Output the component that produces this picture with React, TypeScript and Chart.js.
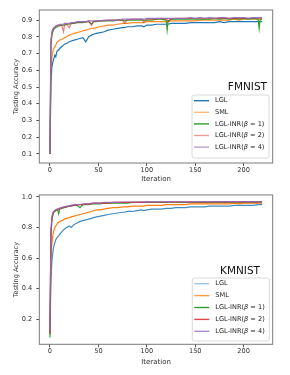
import { useEffect, useRef } from "react";
import { Chart, registerables } from "chart.js";

Chart.register(...registerables);

// ---------- data ----------
const ITER = [
  0, 1, 2, 3, 4, 5, 6, 7, 8, 9, 10,
  12, 14, 15, 17, 20, 22, 25, 28, 31, 34, 37, 40, 43, 45, 48,
  52, 56, 60, 65, 70, 75, 77, 80, 85, 90, 95, 97, 100,
  105, 110, 115, 120, 121, 122, 125, 130, 135, 140, 145, 150,
  155, 160, 165, 170, 175, 180, 185, 190, 195, 200, 205, 210, 215, 216, 217, 219,
];

const SERIES_NAMES = ["LGL", "SML", "LGL-INR(β = 1)", "LGL-INR(β = 2)", "LGL-INR(β = 4)"];

const X_TICKS = [0, 50, 100, 150, 200];
const F_Y_TICKS = [0.1, 0.2, 0.3, 0.4, 0.5, 0.6, 0.7, 0.8, 0.9];
const K_Y_TICKS = [0.2, 0.4, 0.6, 0.8, 1.0];

// FMNIST
const F_LGL = [
  0.10, 0.52, 0.62, 0.65, 0.67, 0.69, 0.68, 0.71, 0.72, 0.72, 0.73,
  0.74, 0.75, 0.755, 0.76, 0.77, 0.775, 0.78, 0.785, 0.79, 0.795, 0.77, 0.80, 0.81, 0.815, 0.82,
  0.825, 0.83, 0.84, 0.845, 0.85, 0.855, 0.855, 0.86, 0.86, 0.865, 0.865, 0.86, 0.87,
  0.87, 0.875, 0.875, 0.875, 0.875, 0.875, 0.88, 0.88, 0.88, 0.88, 0.885, 0.885,
  0.885, 0.885, 0.885, 0.885, 0.89, 0.885, 0.89, 0.89, 0.89, 0.89, 0.89, 0.89, 0.89, 0.89, 0.89, 0.89,
];
const F_SML = [
  0.10, 0.60, 0.68, 0.71, 0.73, 0.74, 0.75, 0.765, 0.77, 0.775, 0.78,
  0.785, 0.79, 0.795, 0.80, 0.81, 0.815, 0.82, 0.825, 0.83, 0.835, 0.84, 0.845, 0.85, 0.85, 0.855,
  0.86, 0.865, 0.87, 0.87, 0.875, 0.88, 0.88, 0.88, 0.885, 0.885, 0.885, 0.885, 0.89,
  0.89, 0.89, 0.89, 0.89, 0.89, 0.89, 0.895, 0.895, 0.895, 0.895, 0.895, 0.895,
  0.90, 0.90, 0.90, 0.90, 0.90, 0.90, 0.90, 0.905, 0.90, 0.905, 0.905, 0.905, 0.905, 0.905, 0.905, 0.905,
];
const F_B1 = [
  0.10, 0.75, 0.81, 0.83, 0.845, 0.85, 0.855, 0.86, 0.86, 0.865, 0.865,
  0.87, 0.87, 0.87, 0.875, 0.875, 0.88, 0.88, 0.885, 0.885, 0.885, 0.89, 0.89, 0.875, 0.89, 0.89,
  0.895, 0.895, 0.895, 0.895, 0.90, 0.90, 0.895, 0.90, 0.90, 0.90, 0.90, 0.90, 0.90,
  0.90, 0.905, 0.905, 0.90, 0.84, 0.895, 0.905, 0.905, 0.905, 0.905, 0.905, 0.905,
  0.905, 0.905, 0.905, 0.91, 0.905, 0.91, 0.905, 0.91, 0.905, 0.91, 0.905, 0.91, 0.905, 0.85, 0.90, 0.905,
];
const F_B2 = [
  0.10, 0.76, 0.82, 0.84, 0.85, 0.855, 0.86, 0.865, 0.865, 0.87, 0.87,
  0.87, 0.83, 0.87, 0.875, 0.855, 0.88, 0.885, 0.885, 0.89, 0.89, 0.885, 0.895, 0.87, 0.89, 0.895,
  0.895, 0.895, 0.90, 0.90, 0.90, 0.90, 0.88, 0.90, 0.905, 0.905, 0.905, 0.885, 0.905,
  0.905, 0.905, 0.91, 0.905, 0.905, 0.89, 0.905, 0.91, 0.91, 0.91, 0.91, 0.91,
  0.91, 0.91, 0.91, 0.91, 0.91, 0.91, 0.91, 0.91, 0.91, 0.91, 0.91, 0.915, 0.91, 0.91, 0.91, 0.91,
];
const F_B4 = [
  0.10, 0.78, 0.83, 0.845, 0.855, 0.86, 0.865, 0.865, 0.87, 0.87, 0.875,
  0.875, 0.875, 0.88, 0.88, 0.88, 0.885, 0.885, 0.89, 0.89, 0.89, 0.89, 0.895, 0.895, 0.895, 0.895,
  0.895, 0.90, 0.90, 0.90, 0.90, 0.905, 0.905, 0.905, 0.905, 0.905, 0.905, 0.905, 0.91,
  0.91, 0.91, 0.91, 0.91, 0.91, 0.91, 0.91, 0.91, 0.91, 0.91, 0.915, 0.91,
  0.915, 0.91, 0.915, 0.91, 0.915, 0.915, 0.91, 0.915, 0.915, 0.915, 0.91, 0.915, 0.915, 0.915, 0.915, 0.915,
];

// KMNIST
const K_LGL = [
  0.10, 0.45, 0.58, 0.64, 0.68, 0.70, 0.72, 0.73, 0.74, 0.745, 0.755,
  0.77, 0.785, 0.79, 0.80, 0.81, 0.80, 0.82, 0.83, 0.84, 0.845, 0.85, 0.855, 0.86, 0.865, 0.87,
  0.875, 0.88, 0.885, 0.89, 0.895, 0.90, 0.90, 0.905, 0.905, 0.91, 0.915, 0.91, 0.915,
  0.92, 0.92, 0.92, 0.925, 0.925, 0.925, 0.925, 0.93, 0.93, 0.93, 0.935, 0.935,
  0.935, 0.935, 0.94, 0.94, 0.94, 0.94, 0.94, 0.945, 0.945, 0.945, 0.945, 0.945, 0.95, 0.95, 0.95, 0.95,
];
const K_SML = [
  0.10, 0.60, 0.70, 0.75, 0.78, 0.80, 0.81, 0.82, 0.83, 0.835, 0.84,
  0.845, 0.85, 0.855, 0.86, 0.865, 0.87, 0.875, 0.88, 0.885, 0.89, 0.895, 0.90, 0.905, 0.91, 0.915,
  0.915, 0.92, 0.925, 0.93, 0.93, 0.935, 0.935, 0.935, 0.94, 0.94, 0.94, 0.94, 0.945,
  0.945, 0.945, 0.945, 0.95, 0.95, 0.95, 0.95, 0.95, 0.95, 0.95, 0.955, 0.955,
  0.955, 0.955, 0.955, 0.955, 0.955, 0.955, 0.955, 0.96, 0.955, 0.96, 0.96, 0.96, 0.96, 0.96, 0.96, 0.96,
];
const K_B1 = [
  0.08, 0.74, 0.85, 0.88, 0.90, 0.905, 0.91, 0.915, 0.915, 0.89, 0.92,
  0.925, 0.93, 0.93, 0.935, 0.94, 0.94, 0.945, 0.945, 0.93, 0.95, 0.95, 0.95, 0.955, 0.955, 0.955,
  0.955, 0.96, 0.96, 0.96, 0.96, 0.96, 0.96, 0.96, 0.965, 0.965, 0.965, 0.965, 0.965,
  0.965, 0.965, 0.965, 0.965, 0.965, 0.965, 0.965, 0.965, 0.965, 0.965, 0.965, 0.965,
  0.965, 0.965, 0.965, 0.966, 0.965, 0.966, 0.965, 0.966, 0.966, 0.966, 0.966, 0.966, 0.966, 0.966, 0.966, 0.966,
];
const K_B2 = [
  0.11, 0.76, 0.86, 0.89, 0.905, 0.91, 0.915, 0.915, 0.92, 0.92, 0.925,
  0.93, 0.93, 0.935, 0.935, 0.94, 0.945, 0.945, 0.95, 0.95, 0.95, 0.955, 0.955, 0.955, 0.96, 0.96,
  0.96, 0.96, 0.96, 0.965, 0.965, 0.965, 0.965, 0.965, 0.965, 0.965, 0.965, 0.965, 0.967,
  0.967, 0.967, 0.967, 0.967, 0.967, 0.967, 0.967, 0.967, 0.967, 0.967, 0.967, 0.967,
  0.967, 0.967, 0.967, 0.968, 0.967, 0.968, 0.967, 0.968, 0.968, 0.968, 0.968, 0.968, 0.968, 0.968, 0.968, 0.968,
];
const K_B4 = [
  0.12, 0.78, 0.87, 0.895, 0.905, 0.91, 0.915, 0.92, 0.92, 0.925, 0.925,
  0.93, 0.935, 0.935, 0.94, 0.94, 0.945, 0.95, 0.95, 0.95, 0.955, 0.955, 0.955, 0.96, 0.96, 0.96,
  0.96, 0.965, 0.965, 0.965, 0.965, 0.967, 0.967, 0.967, 0.967, 0.967, 0.968, 0.968, 0.968,
  0.968, 0.968, 0.968, 0.968, 0.968, 0.968, 0.968, 0.968, 0.968, 0.968, 0.968, 0.968,
  0.969, 0.969, 0.969, 0.969, 0.969, 0.969, 0.969, 0.969, 0.969, 0.969, 0.969, 0.969, 0.969, 0.969, 0.969, 0.969,
];

// ---------- styles ----------
const FONT = "'DejaVu Sans', 'Liberation Sans', sans-serif";
const TOP_COLORS = ["#1f77b4", "rgba(255,127,14,0.9)", "#2ca02c", "rgba(214,39,40,0.6)", "rgba(148,103,189,0.9)"];
const BOT_COLORS = ["rgba(31,119,180,0.85)", "#ff7f0e", "#2ca02c", "#d62728", "rgba(148,103,189,0.85)"];
const TOP_LEG_COLORS = ["#1f77b4", "#ffbb78", "#2ca02c", "#f09a9a", "#b9a1d6"];
const BOT_LEG_COLORS = ["#9ec5e3", "#ff9a40", "#2ca02c", "#e0474a", "#a98bd2"];

type PanelCfg = {
  series: number[][];
  colors: string[];
  legColors: string[];
  yTicks: number[];
  yMin: number;
  yMax: number;
  height: number;
  padTop: number;
  xAxisH: number;
  xTitlePad: number;
  title: string;
  titleRight: number;
  titleY: number;
  legRight: number;
  legBottom: number;
  legH: number;
  legRow0: number;
  legStep: number;
};

const framePlugin = {
  id: "frameAndLegend",
  afterDraw(chart: any) {
    const cfg: PanelCfg = chart.options.plugins.frameAndLegend.cfg;
    const { ctx, chartArea } = chart;
    const { left, right, top, bottom } = chartArea;
    ctx.save();
    // frame
    ctx.strokeStyle = "#7a7a7a";
    ctx.lineWidth = 1;
    ctx.strokeRect(left, top, right - left, bottom - top);

    // panel title
    ctx.fillStyle = "#111";
    ctx.font = `10.5px ${FONT}`;
    ctx.textAlign = "right";
    ctx.textBaseline = "middle";
    ctx.fillText(cfg.title, right - cfg.titleRight, top + cfg.titleY);

    // legend box
    const legW = 77;
    const bx = right - cfg.legRight - legW;
    const by = bottom - cfg.legBottom - cfg.legH;
    ctx.fillStyle = "rgba(255,255,255,0.85)";
    ctx.strokeStyle = "#d0d0d0";
    ctx.lineWidth = 0.8;
    ctx.beginPath();
    const r = 2;
    ctx.moveTo(bx + r, by);
    ctx.lineTo(bx + legW - r, by);
    ctx.quadraticCurveTo(bx + legW, by, bx + legW, by + r);
    ctx.lineTo(bx + legW, by + cfg.legH - r);
    ctx.quadraticCurveTo(bx + legW, by + cfg.legH, bx + legW - r, by + cfg.legH);
    ctx.lineTo(bx + r, by + cfg.legH);
    ctx.quadraticCurveTo(bx, by + cfg.legH, bx, by + cfg.legH - r);
    ctx.lineTo(bx, by + r);
    ctx.quadraticCurveTo(bx, by, bx + r, by);
    ctx.closePath();
    ctx.fill();
    ctx.stroke();

    chart.data.datasets.forEach((ds: any, i: number) => {
      const y = by + cfg.legRow0 + i * cfg.legStep;
      ctx.strokeStyle = cfg.legColors[i];
      ctx.lineWidth = 1.4;
      ctx.beginPath();
      ctx.moveTo(bx + 2, y);
      ctx.lineTo(bx + 17, y);
      ctx.stroke();
      ctx.fillStyle = "#222";
      ctx.textAlign = "left";
      ctx.textBaseline = "middle";
      const label: string = ds.label;
      let x = bx + 23;
      const parts = label.split("β");
      parts.forEach((p: string, k: number) => {
        ctx.font = `6.6px ${FONT}`;
        ctx.fillText(p, x, y);
        x += ctx.measureText(p).width;
        if (k < parts.length - 1) {
          ctx.font = `italic 6.6px ${FONT}`;
          ctx.fillText("β", x, y);
          x += ctx.measureText("β").width;
        }
      });
    });
    ctx.restore();
  },
};

function buildChart(canvas: HTMLCanvasElement, cfg: PanelCfg) {
  return new Chart(canvas, {
    type: "line",
    data: {
      datasets: cfg.series.map((vals, i) => ({
        label: SERIES_NAMES[i],
        data: ITER.map((x, j) => ({ x, y: vals[j] })),
        borderColor: cfg.colors[i],
        backgroundColor: cfg.colors[i],
        borderWidth: 1.2,
        pointRadius: 0,
        tension: 0,
        fill: false,
        order: 5 - i,
      })),
    },
    options: {
      responsive: false,
      maintainAspectRatio: false,
      animation: false,
      events: [],
      layout: { padding: { top: cfg.padTop, right: 17.3, left: 0, bottom: 0 } },
      plugins: {
        legend: { display: false },
        tooltip: { enabled: false },
        frameAndLegend: { cfg },
      } as any,
      scales: {
        x: {
          type: "linear",
          min: -11,
          max: 230,
          afterBuildTicks: (s: any) => {
            s.ticks = X_TICKS.map((v) => ({ value: v }));
          },
          afterFit: (s: any) => {
            s.height = cfg.xAxisH;
          },
          ticks: {
            font: { family: FONT, size: 6.6 },
            color: "#333",
            padding: 0,
            maxRotation: 0,
            autoSkip: false,
            callback: (v: any) => String(v),
          },
          grid: { drawOnChartArea: false, drawTicks: true, tickLength: 3, color: "#555" },
          border: { display: false },
          title: {
            display: true,
            text: "Iteration",
            font: { family: FONT, size: 7 },
            color: "#333",
            padding: { top: 0, bottom: cfg.xTitlePad },
          },
        },
        y: {
          type: "linear",
          min: cfg.yMin,
          max: cfg.yMax,
          afterBuildTicks: (s: any) => {
            s.ticks = cfg.yTicks.map((v) => ({ value: v }));
          },
          afterFit: (s: any) => {
            s.width = 39.3;
          },
          ticks: {
            font: { family: FONT, size: 6.6 },
            color: "#333",
            padding: 4,
            autoSkip: false,
            callback: (v: any) => Number(v).toFixed(1),
          },
          grid: { drawOnChartArea: false, drawTicks: true, tickLength: 3, color: "#555" },
          border: { display: false },
          title: {
            display: true,
            text: "Testing Accuracy",
            font: { family: FONT, size: 6.6 },
            color: "#333",
            padding: { top: 12.1, bottom: 0 },
          },
        },
      },
    } as any,
    plugins: [framePlugin],
  });
}

const TOP_CFG: PanelCfg = {
  series: [F_LGL, F_SML, F_B1, F_B2, F_B4],
  colors: TOP_COLORS,
  legColors: TOP_LEG_COLORS,
  yTicks: F_Y_TICKS,
  yMin: 0.046,
  yMax: 0.96,
  height: 187,
  padTop: 10,
  xAxisH: 24,
  xTitlePad: 3.8,
  title: "FMNIST",
  titleRight: 5.7,
  titleY: 77,
  legRight: 3.7,
  legBottom: 5,
  legH: 63,
  legRow0: 5.7,
  legStep: 11.6,
};

const BOT_CFG: PanelCfg = {
  series: [K_LGL, K_SML, K_B1, K_B2, K_B4],
  colors: BOT_COLORS,
  legColors: BOT_LEG_COLORS,
  yTicks: K_Y_TICKS,
  yMin: 0.036,
  yMax: 1.013,
  height: 188,
  padTop: 6.7,
  xAxisH: 30.7,
  xTitlePad: 8.8,
  title: "KMNIST",
  titleRight: 12.7,
  titleY: 76.3,
  legRight: 3.4,
  legBottom: 3.3,
  legH: 63,
  legRow0: 5.7,
  legStep: 11.9,
};

function Panel({ cfg }: { cfg: PanelCfg }) {
  const ref = useRef<HTMLCanvasElement | null>(null);
  useEffect(() => {
    if (!ref.current) return;
    const chart = buildChart(ref.current, cfg);
    return () => chart.destroy();
  }, [cfg]);
  return (
    <canvas
      ref={ref}
      width={290}
      height={cfg.height}
      style={{ display: "block", width: 290, height: cfg.height }}
    />
  );
}

export default function App() {
  return (
    <div
      style={{
        position: "absolute",
        left: 0,
        top: 0,
        width: 290,
        height: 375,
        background: "#fff",
        overflow: "hidden",
      }}
    >
      <Panel cfg={TOP_CFG} />
      <Panel cfg={BOT_CFG} />
    </div>
  );
}
